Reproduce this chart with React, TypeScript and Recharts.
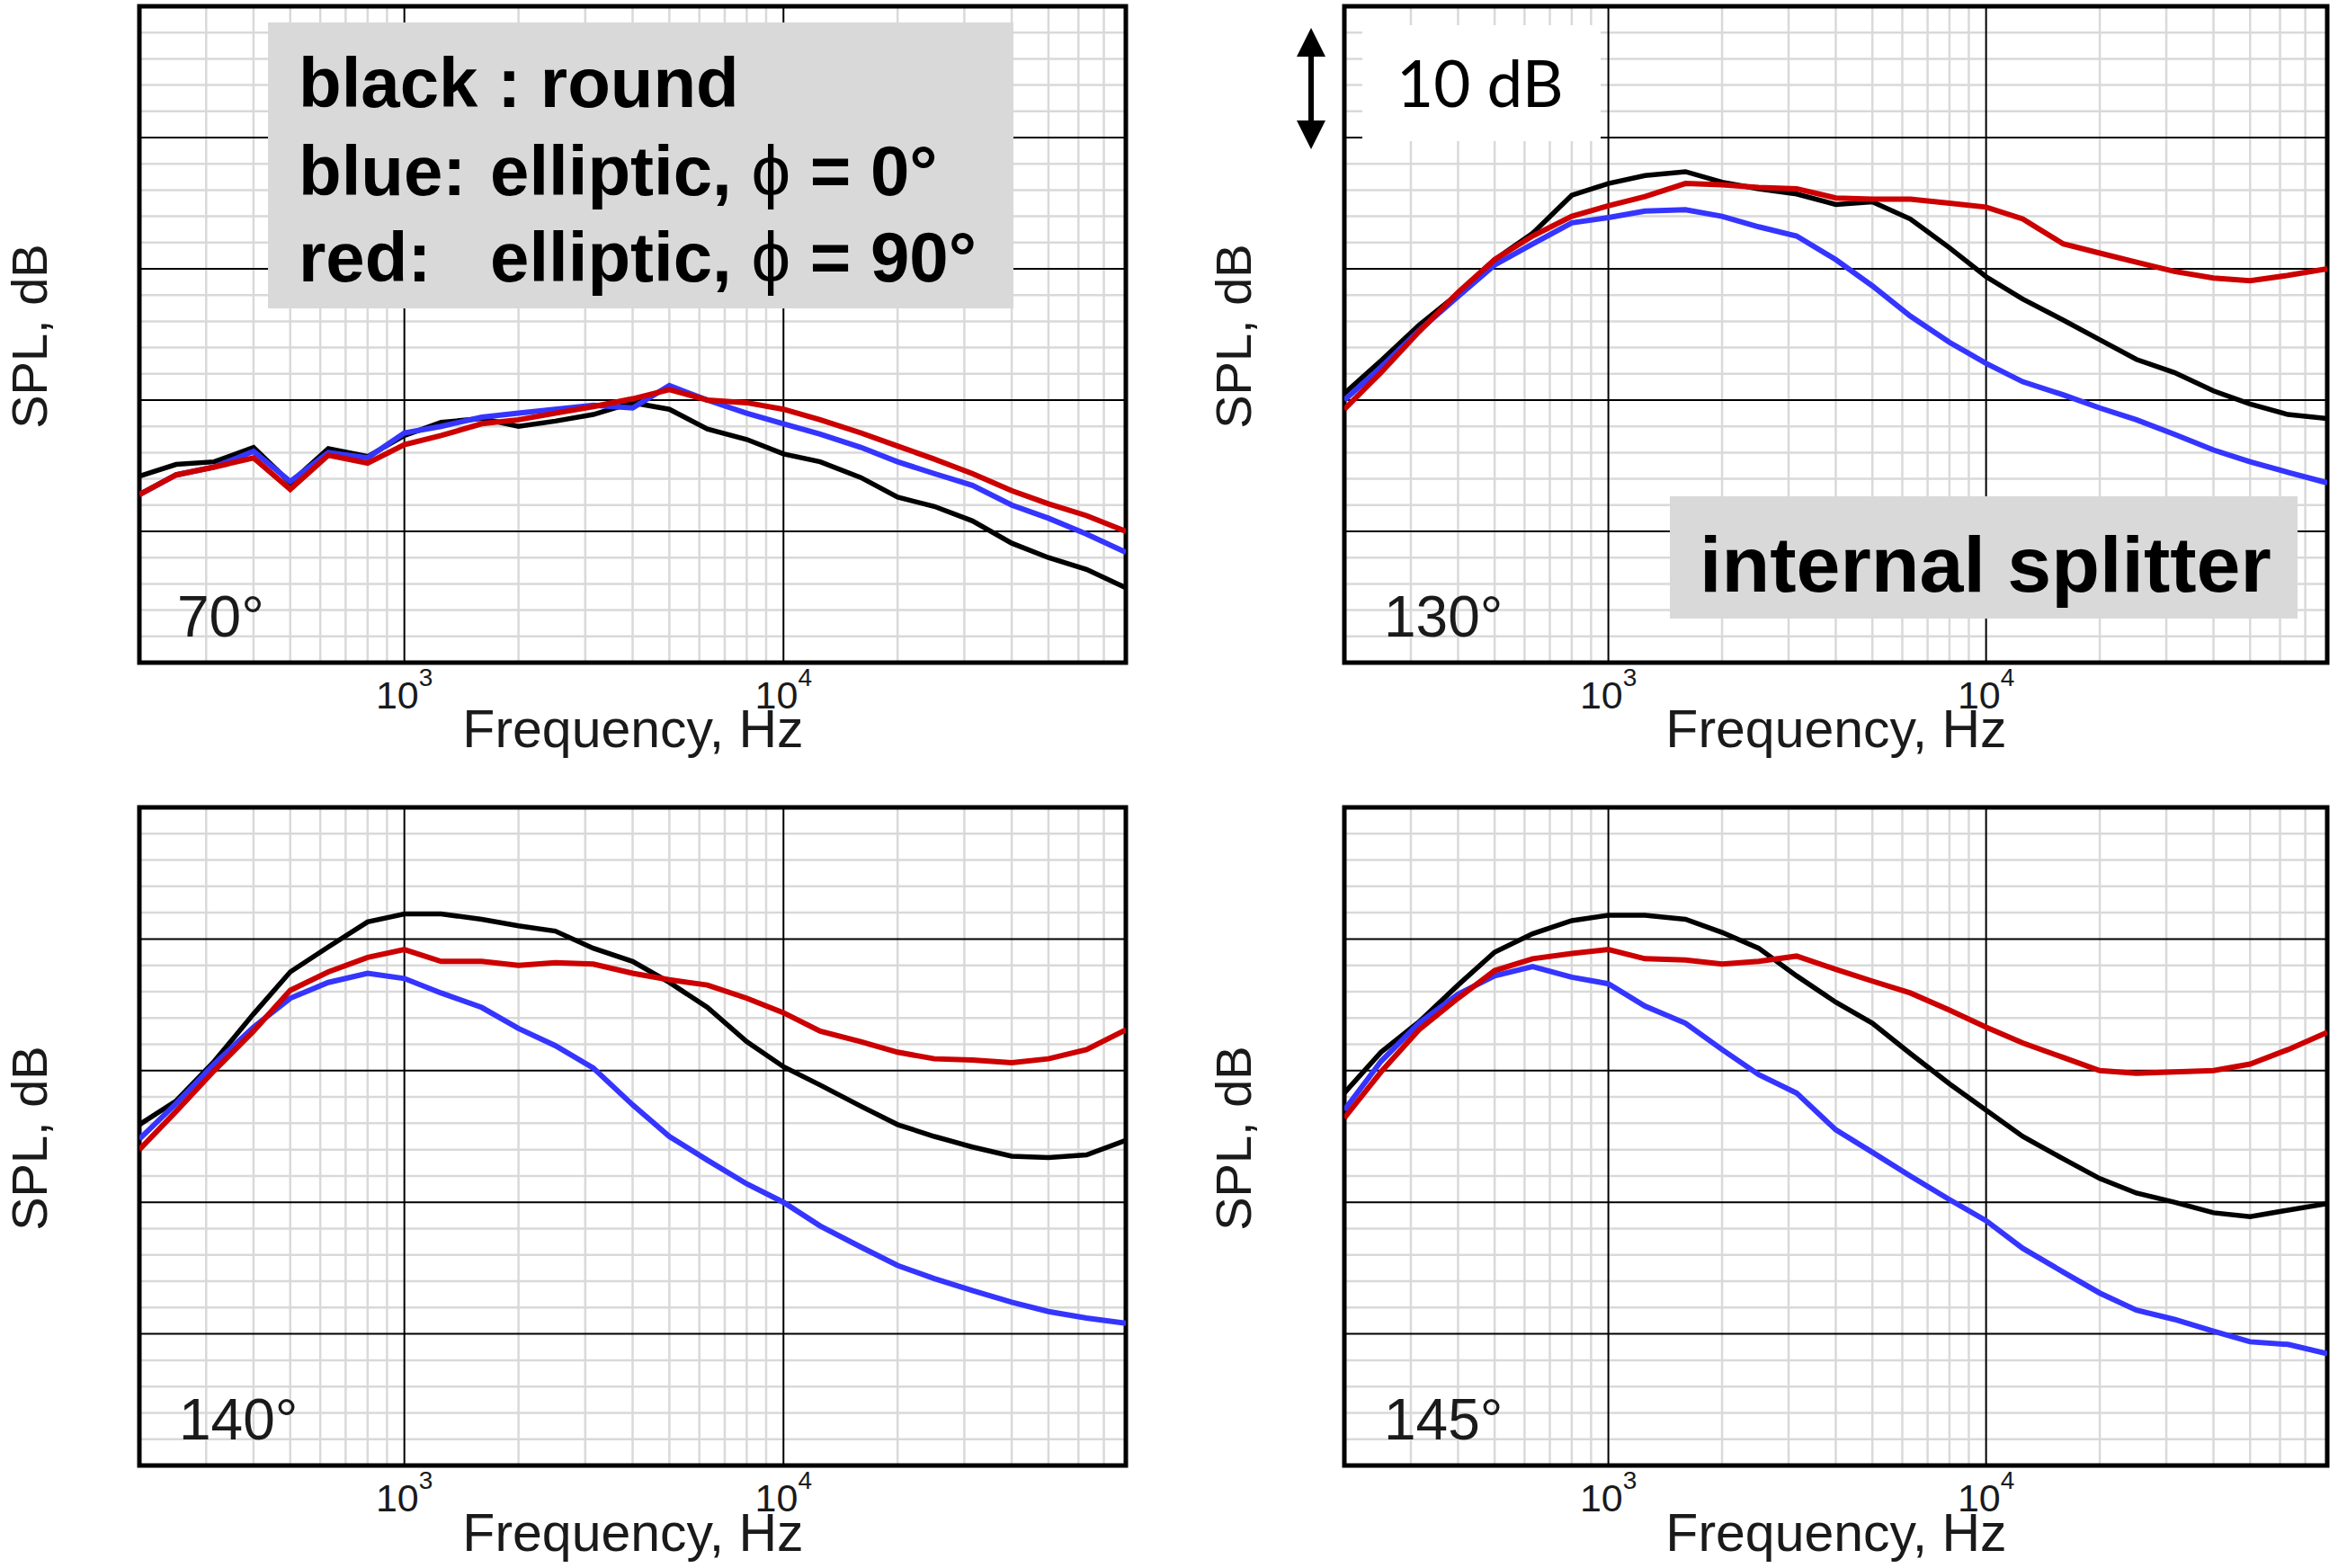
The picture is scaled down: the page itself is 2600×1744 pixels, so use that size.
import React from "react";
import { LineChart, Line, XAxis, YAxis, CartesianGrid, ReferenceArea } from "recharts";

// 1/3-octave band centres, Hz
const FREQS = [
  200, 250, 315, 400, 500, 630, 800, 1000, 1250, 1600, 2000, 2500, 3150, 4000, 5000,
  6300, 8000, 10000, 12500, 16000, 20000, 25000, 31500, 40000, 50000, 63000, 80000,
];

// SPL, dB (relative scale; 10 dB per major division)
const TL_BLACK = [54.2, 55.1, 55.3, 56.4, 53.7, 56.3, 55.7, 57.3, 58.3, 58.6, 58.0, 58.4, 58.9, 59.8, 59.3, 57.8, 57.0, 55.9, 55.3, 54.1, 52.6, 51.9, 50.8, 49.1, 48.0, 47.1, 45.7];
const TL_BLUE = [52.8, 54.3, 54.9, 56.1, 53.8, 56.0, 55.6, 57.5, 58.0, 58.7, 59.0, 59.3, 59.6, 59.4, 61.1, 60.0, 59.0, 58.2, 57.4, 56.4, 55.3, 54.4, 53.5, 52.0, 51.0, 49.8, 48.4];
const TL_RED = [52.8, 54.3, 54.9, 55.6, 53.2, 55.8, 55.2, 56.6, 57.3, 58.2, 58.5, 59.0, 59.5, 60.1, 60.8, 60.0, 59.8, 59.3, 58.5, 57.5, 56.5, 55.5, 54.4, 53.1, 52.1, 51.2, 50.0];

const TR_BLACK = [60.5, 63.0, 65.7, 68.1, 70.7, 72.7, 75.6, 76.5, 77.1, 77.4, 76.6, 76.1, 75.7, 74.9, 75.1, 73.8, 71.6, 69.4, 67.7, 66.1, 64.6, 63.1, 62.1, 60.7, 59.7, 58.9, 58.6];
const TR_BLUE = [60.0, 62.5, 65.3, 67.9, 70.3, 71.9, 73.5, 73.9, 74.4, 74.5, 74.0, 73.2, 72.5, 70.7, 68.7, 66.4, 64.4, 62.8, 61.4, 60.4, 59.4, 58.5, 57.4, 56.2, 55.3, 54.5, 53.7];
const TR_RED = [59.3, 62.1, 65.2, 68.2, 70.7, 72.5, 74.0, 74.8, 75.5, 76.5, 76.4, 76.2, 76.1, 75.4, 75.3, 75.3, 75.0, 74.7, 73.8, 71.9, 71.2, 70.5, 69.8, 69.3, 69.1, 69.5, 70.0];

const BL_BLACK = [65.9, 67.7, 70.7, 74.3, 77.5, 79.4, 81.3, 81.9, 81.9, 81.5, 81.0, 80.6, 79.3, 78.3, 76.7, 74.8, 72.2, 70.3, 68.9, 67.3, 65.9, 65.0, 64.2, 63.5, 63.4, 63.6, 64.7];
const BL_BLUE = [64.8, 67.5, 70.5, 73.3, 75.5, 76.7, 77.4, 77.0, 75.9, 74.8, 73.2, 71.9, 70.2, 67.4, 65.0, 63.2, 61.4, 60.0, 58.2, 56.6, 55.2, 54.2, 53.3, 52.4, 51.7, 51.2, 50.8];
const BL_RED = [64.0, 66.9, 70.0, 73.0, 76.1, 77.5, 78.6, 79.2, 78.3, 78.3, 78.0, 78.2, 78.1, 77.4, 76.9, 76.5, 75.5, 74.4, 73.0, 72.2, 71.4, 70.9, 70.8, 70.6, 70.9, 71.6, 73.1];

const BR_BLACK = [68.3, 71.4, 73.7, 76.5, 79.0, 80.4, 81.4, 81.8, 81.8, 81.5, 80.5, 79.3, 77.2, 75.2, 73.6, 71.3, 69.0, 67.0, 65.0, 63.3, 61.8, 60.7, 60.0, 59.2, 58.9, 59.4, 59.9];
const BR_BLUE = [67.0, 70.7, 73.6, 75.8, 77.2, 77.9, 77.1, 76.6, 74.9, 73.6, 71.6, 69.7, 68.3, 65.5, 63.8, 62.0, 60.2, 58.6, 56.5, 54.7, 53.1, 51.8, 51.1, 50.2, 49.4, 49.2, 48.5];
const BR_RED = [66.4, 69.9, 73.1, 75.5, 77.6, 78.5, 78.9, 79.2, 78.5, 78.4, 78.1, 78.3, 78.7, 77.7, 76.8, 75.9, 74.6, 73.3, 72.1, 71.0, 70.0, 69.8, 69.9, 70.0, 70.5, 71.6, 72.9];

// axes / grid
const X_DOMAIN = [200, 80000];
const Y_DOMAIN = [40, 90];
const MAJOR_FREQS = [1000, 10000];
const MINOR_FREQS = [
  300, 400, 500, 600, 700, 800, 900,
  2000, 3000, 4000, 5000, 6000, 7000, 8000, 9000,
  20000, 30000, 40000, 50000, 60000, 70000,
];
const TICK_FREQS = [
  300, 400, 500, 600, 700, 800, 900, 1000,
  2000, 3000, 4000, 5000, 6000, 7000, 8000, 9000, 10000,
  20000, 30000, 40000, 50000, 60000, 70000,
];
const MAJOR_DB = [50, 60, 70, 80];
const MINOR_DB = [42, 44, 46, 48, 52, 54, 56, 58, 62, 64, 66, 68, 72, 74, 76, 78, 82, 84, 86, 88];
const TICK_DB = [42, 44, 46, 48, 50, 52, 54, 56, 58, 60, 62, 64, 66, 68, 70, 72, 74, 76, 78, 80, 82, 84, 86, 88];

const FONT = '"Liberation Sans", Arial, sans-serif';
const PAD = 10;
const AXIS_H = 70;

function PowerTick(props: any) {
  const { x, y, payload } = props;
  const exp = Math.round(Math.log10(payload.value));
  return (
    <text x={x} y={y + 51} textAnchor="middle" fontFamily={FONT} fontSize={43} fill="#1a1a1a">
      10
      <tspan dy={-25} fontSize={28}>
        {exp}
      </tspan>
    </text>
  );
}

function Panel({
  left,
  top,
  w,
  h,
  black,
  blue,
  red,
}: {
  left: number;
  top: number;
  w: number;
  h: number;
  black: number[];
  blue: number[];
  red: number[];
}) {
  const data = FREQS.map((f, i) => ({ f, black: black[i], blue: blue[i], red: red[i] }));
  return (
    <div style={{ position: "absolute", left: left - PAD, top: top - PAD }}>
      <LineChart
        width={w + 2 * PAD}
        height={h + PAD + AXIS_H}
        data={data}
        margin={{ top: PAD, right: PAD, left: PAD, bottom: 0 }}
      >
        <CartesianGrid
          horizontalValues={MINOR_DB}
          verticalValues={MINOR_FREQS}
          stroke="#d9d9d9"
          strokeWidth={2.5}
          fill="none"
        />
        <CartesianGrid
          horizontalValues={MAJOR_DB}
          verticalValues={MAJOR_FREQS}
          stroke="#000"
          strokeWidth={2}
          fill="none"
        />
        <XAxis
          dataKey="f"
          type="number"
          scale="log"
          domain={X_DOMAIN}
          allowDataOverflow
          ticks={MAJOR_FREQS}
          interval={0}
          tick={<PowerTick />}
          tickLine={false}
          tickSize={0}
          tickMargin={0}
          axisLine={false}
          height={AXIS_H}
        />
        <XAxis
          xAxisId="minor"
          type="number"
          scale="log"
          domain={X_DOMAIN}
          allowDataOverflow
          ticks={TICK_FREQS}
          interval={0}
          mirror
          tick={false}
          tickSize={10}
          tickLine={{ stroke: "#000", strokeWidth: 3 }}
          axisLine={false}
        />
        <YAxis type="number" domain={Y_DOMAIN} allowDataOverflow hide />
        <YAxis
          yAxisId="minor"
          type="number"
          domain={Y_DOMAIN}
          allowDataOverflow
          ticks={TICK_DB}
          interval={0}
          mirror
          tick={false}
          tickSize={10}
          tickLine={{ stroke: "#000", strokeWidth: 3 }}
          axisLine={false}
        />
        <Line type="linear" dataKey="black" stroke="#000000" strokeWidth={5.5} dot={false} isAnimationActive={false} />
        <Line type="linear" dataKey="blue" stroke="#3535ff" strokeWidth={6} dot={false} isAnimationActive={false} />
        <Line type="linear" dataKey="red" stroke="#cc0000" strokeWidth={6} dot={false} isAnimationActive={false} />
        <ReferenceArea
          x1={X_DOMAIN[0]}
          x2={X_DOMAIN[1]}
          y1={Y_DOMAIN[0]}
          y2={Y_DOMAIN[1]}
          fill="none"
          fillOpacity={0}
          stroke="#000"
          strokeWidth={5}
          ifOverflow="visible"
        />
      </LineChart>
    </div>
  );
}

function SplLabel({ cx, cy }: { cx: number; cy: number }) {
  return (
    <text transform={`translate(${cx},${cy}) rotate(-90)`} y={20} textAnchor="middle" fontFamily={FONT} fontSize={56} fill="#1a1a1a">
      SPL, dB
    </text>
  );
}

function FreqLabel({ cx, y }: { cx: number; y: number }) {
  return (
    <text x={cx} y={y} textAnchor="middle" fontFamily={FONT} fontSize={59} fill="#1a1a1a">
      Frequency, Hz
    </text>
  );
}

function AngleLabel({ x, y, text }: { x: number; y: number; text: string }) {
  return (
    <text x={x} y={y} fontFamily={FONT} fontSize={64} fill="#1a1a1a">
      {text}
    </text>
  );
}

export default function App() {
  return (
    <div style={{ position: "absolute", left: 0, top: 0, width: 2600, height: 1744, background: "#fff", overflow: "hidden" }}>
      <Panel left={155} top={7} w={1097} h={730} black={TL_BLACK} blue={TL_BLUE} red={TL_RED} />
      <Panel left={1495} top={7} w={1093} h={730} black={TR_BLACK} blue={TR_BLUE} red={TR_RED} />
      <Panel left={155} top={898} w={1097} h={732} black={BL_BLACK} blue={BL_BLUE} red={BL_RED} />
      <Panel left={1495} top={898} w={1093} h={732} black={BR_BLACK} blue={BR_BLUE} red={BR_RED} />

      <svg width={2600} height={1744} style={{ position: "absolute", left: 0, top: 0, pointerEvents: "none" }}>
        {/* legend box */}
        <rect x={298} y={25} width={829} height={318} fill="#d9d9d9" />
        <g fontFamily={FONT} fontSize={78} fontWeight="bold" fill="#000">
          <text x={332} y={119}>black : round</text>
          <text x={332} y={217}>blue:</text>
          <text x={545} y={217}>
            elliptic, <tspan fontWeight="normal">ϕ</tspan> = 0°
          </text>
          <text x={332} y={313}>red:</text>
          <text x={545} y={313}>
            elliptic, <tspan fontWeight="normal">ϕ</tspan> = 90°
          </text>
        </g>

        {/* 10 dB scale */}
        <rect x={1515} y={28} width={265} height={129} fill="#fff" />
        <text x={1553} y={119} fontFamily="Lato, sans-serif" fontSize={71} fill="#000">
          10 dB
        </text>
        <line x1={1458} y1={58} x2={1458} y2={139} stroke="#000" strokeWidth={6} />
        <polygon points="1458,31 1442,63 1474,63" fill="#000" />
        <polygon points="1458,166 1442,134 1474,134" fill="#000" />

        {/* internal splitter */}
        <rect x={1857} y={552} width={698} height={136} fill="#d9d9d9" />
        <text x={1890} y={658} fontFamily={FONT} fontSize={88} fontWeight="bold" fill="#000">
          internal splitter
        </text>

        <AngleLabel x={197} y={708} text="70°" />
        <AngleLabel x={1539} y={708} text="130°" />
        <AngleLabel x={199} y={1601} text="140°" />
        <AngleLabel x={1539} y={1601} text="145°" />

        <SplLabel cx={32} cy={374} />
        <SplLabel cx={1371} cy={374} />
        <SplLabel cx={32} cy={1266} />
        <SplLabel cx={1371} cy={1266} />

        <FreqLabel cx={704} y={831} />
        <FreqLabel cx={2042} y={831} />
        <FreqLabel cx={704} y={1725} />
        <FreqLabel cx={2042} y={1725} />
      </svg>
    </div>
  );
}
